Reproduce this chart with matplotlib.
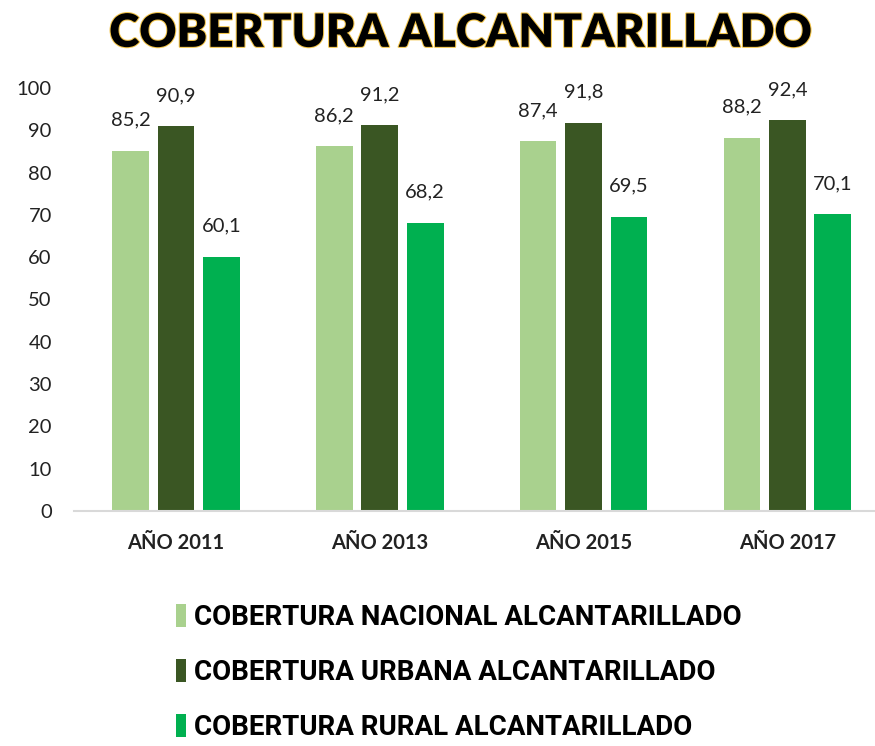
import matplotlib.pyplot as plt
import matplotlib.patheffects as pe
import numpy as np

years = ["AÑO 2011", "AÑO 2013", "AÑO 2015", "AÑO 2017"]
nacional = [85.2, 86.2, 87.4, 88.2]
urbana = [90.9, 91.2, 91.8, 92.4]
rural = [60.1, 68.2, 69.5, 70.1]
series_names = ["COBERTURA NACIONAL ALCANTARILLADO",
                "COBERTURA URBANA ALCANTARILLADO",
                "COBERTURA RURAL ALCANTARILLADO"]
colors = ["#a9d18e", "#3a5623", "#00b050"]

narrow = ["Lato", "DejaVu Sans"]

fig = plt.figure(figsize=(8.75, 7.46), dpi=100)
ax = fig.add_axes([74 / 875, 235 / 746, 1 - 74 / 875, 423 / 746])

x = np.arange(len(years))
w = 0.18
off = 0.223
bars = []
for i, (vals, c) in enumerate(zip([nacional, urbana, rural], colors)):
    b = ax.bar(x + (i - 1) * off, vals, width=w, color=c, label=series_names[i])
    bars.append(b)
    for xi, v in zip(x + (i - 1) * off, vals):
        ax.annotate(f"{v:.1f}".replace(".", ","), (xi, v), xytext=(0, 16),
                    textcoords="offset points", ha="center", va="bottom",
                    fontsize=14.5, family=narrow, color="#222222")

ax.set_ylim(0, 100)
ax.set_xlim(-0.5, 3.43)
ax.set_yticks(range(0, 101, 10))
ax.set_xticks(x)
ax.set_xticklabels(years, fontsize=14.5, fontweight="bold", family=narrow)
for lab in ax.get_yticklabels():
    lab.set_fontsize(14.5)
    lab.set_family(narrow)
ax.tick_params(axis="both", length=0, colors="#222222")
ax.tick_params(axis="y", pad=16)
ax.tick_params(axis="x", pad=16)
for s in ["top", "right", "left"]:
    ax.spines[s].set_visible(False)
ax.spines["bottom"].set_color("#d9d9d9")
ax.spines["bottom"].set_linewidth(1.5)

fig.text(0.527, 0.96, "COBERTURA ALCANTARILLADO", ha="center", va="center_baseline",
         fontsize=33, fontweight="heavy", family=narrow,
         path_effects=[pe.withStroke(linewidth=1.5, foreground="#f3c54a")])

leg = fig.legend(handles=bars, labels=series_names, loc="upper left",
                 bbox_to_anchor=(0.201, 0.19), frameon=False,
                 handlelength=0.35, handleheight=0.9, handletextpad=0.3,
                 labelspacing=1.0, borderaxespad=0, borderpad=0,
                 prop={"family": ["Roboto", "DejaVu Sans"], "weight": "bold", "size": 20})

fig.savefig("out.png", dpi=100)
